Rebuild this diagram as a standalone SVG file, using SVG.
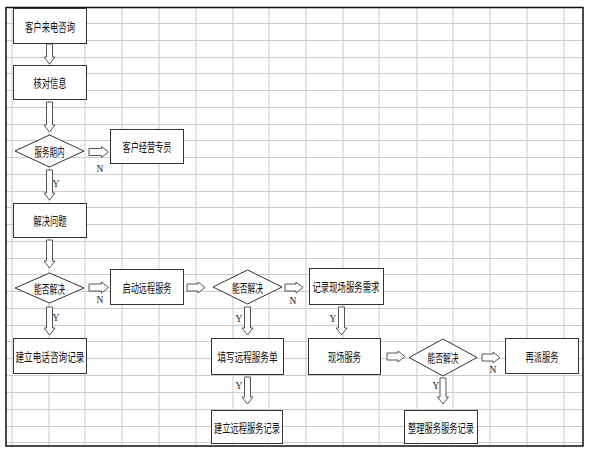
<svg xmlns="http://www.w3.org/2000/svg" width="590" height="452" viewBox="0 0 590 452">
<style>
.grid line{stroke:#cbcbcb;stroke-width:1}
.box{fill:#fff;stroke:#333;stroke-width:1}
.dia{fill:#fff;stroke:#333;stroke-width:1}
.arr{fill:#fff;stroke:#555;stroke-width:1}
.t{font-family:"Noto Sans CJK SC","Noto Sans CJK TC",sans-serif;font-size:12.5px;fill:#111;text-anchor:middle;dominant-baseline:central}
.yn{font-family:"Liberation Serif",serif;font-size:9.5px;fill:#222;text-anchor:middle}
</style>
<rect x="0" y="0" width="590" height="452" fill="#fff"/>
<g class="grid">
<line x1="12" y1="7" x2="12" y2="446"/><line x1="49" y1="7" x2="49" y2="446"/><line x1="85" y1="7" x2="85" y2="446"/><line x1="122" y1="7" x2="122" y2="446"/><line x1="159" y1="7" x2="159" y2="446"/><line x1="196" y1="7" x2="196" y2="446"/><line x1="233" y1="7" x2="233" y2="446"/><line x1="269" y1="7" x2="269" y2="446"/><line x1="306" y1="7" x2="306" y2="446"/><line x1="343" y1="7" x2="343" y2="446"/><line x1="379" y1="7" x2="379" y2="446"/><line x1="417" y1="7" x2="417" y2="446"/><line x1="453" y1="7" x2="453" y2="446"/><line x1="490" y1="7" x2="490" y2="446"/><line x1="527" y1="7" x2="527" y2="446"/><line x1="564" y1="7" x2="564" y2="446"/>
<line x1="6" y1="23.5" x2="583" y2="23.5"/><line x1="6" y1="40.5" x2="583" y2="40.5"/><line x1="6" y1="57.5" x2="583" y2="57.5"/><line x1="6" y1="73.5" x2="583" y2="73.5"/><line x1="6" y1="90.5" x2="583" y2="90.5"/><line x1="6" y1="107.5" x2="583" y2="107.5"/><line x1="6" y1="124.5" x2="583" y2="124.5"/><line x1="6" y1="140.5" x2="583" y2="140.5"/><line x1="6" y1="157.5" x2="583" y2="157.5"/><line x1="6" y1="174.5" x2="583" y2="174.5"/><line x1="6" y1="191.5" x2="583" y2="191.5"/><line x1="6" y1="207.5" x2="583" y2="207.5"/><line x1="6" y1="224.5" x2="583" y2="224.5"/><line x1="6" y1="241.5" x2="583" y2="241.5"/><line x1="6" y1="258.5" x2="583" y2="258.5"/><line x1="6" y1="274.5" x2="583" y2="274.5"/><line x1="6" y1="291.5" x2="583" y2="291.5"/><line x1="6" y1="308.5" x2="583" y2="308.5"/><line x1="6" y1="325.5" x2="583" y2="325.5"/><line x1="6" y1="341.5" x2="583" y2="341.5"/><line x1="6" y1="358.5" x2="583" y2="358.5"/><line x1="6" y1="375.5" x2="583" y2="375.5"/><line x1="6" y1="392.5" x2="583" y2="392.5"/><line x1="6" y1="409.5" x2="583" y2="409.5"/><line x1="6" y1="426.5" x2="583" y2="426.5"/><line x1="6" y1="442.5" x2="583" y2="442.5"/>
</g>
<rect x="6" y="7.5" width="577" height="438.5" fill="none" stroke="#111" stroke-width="1.5"/>
<g id="connectors">
<path class="arr" d="M46.5,44 H52.5 V57 H55 L49.5,64 L44,57 H46.5 Z"/>
<path class="arr" d="M46.5,102 H52.5 V125 H55 L49.5,132 L44,125 H46.5 Z"/>
<path class="arr" d="M89,148.5 H101.5 V146.5 L108.5,152 L101.5,157.5 V155.5 H89 Z"/>
<text class="yn" x="100" y="172">N</text>
<path class="arr" d="M46.5,170 H52.5 V193 H55 L49.5,200 L44,193 H46.5 Z"/>
<text class="yn" x="56" y="187">Y</text>
<path class="arr" d="M46.5,240 H52.5 V261 H55 L49.5,268 L44,261 H46.5 Z"/>
<path class="arr" d="M89,284 H101.5 V282 L108.5,287.5 L101.5,293 V291 H89 Z"/>
<text class="yn" x="100" y="303">N</text>
<path class="arr" d="M46.5,307 H52.5 V328 H55 L49.5,335 L44,328 H46.5 Z"/>
<text class="yn" x="56" y="321">Y</text>
<path class="arr" d="M187,284 H198 V282 L205,287.5 L198,293 V291 H187 Z"/>
<path class="arr" d="M285,284 H296 V282 L303,287.5 L296,293 V291 H285 Z"/>
<text class="yn" x="293" y="304">N</text>
<path class="arr" d="M244.5,307 H250.5 V328 H253 L247.5,335 L242,328 H244.5 Z"/>
<text class="yn" x="239" y="322">Y</text>
<path class="arr" d="M338.5,307 H344.5 V328 H347 L341.5,335 L336,328 H338.5 Z"/>
<text class="yn" x="333" y="322">Y</text>
<path class="arr" d="M387,353 H398 V351 L405,356.5 L398,362 V360 H387 Z"/>
<path class="arr" d="M482,354 H493 V352 L500,357.5 L493,363 V361 H482 Z"/>
<text class="yn" x="493" y="373">N</text>
<path class="arr" d="M244.5,377 H250.5 V397 H253 L247.5,404 L242,397 H244.5 Z"/>
<text class="yn" x="239" y="389">Y</text>
<path class="arr" d="M440,378 H446 V397 H448.5 L443,404 L437.5,397 H440 Z"/>
<text class="yn" x="436" y="389">Y</text>
</g>
<g id="n1"><rect class="box" x="13.5" y="8.5" width="73" height="35"/><text class="t" x="50" y="26" textLength="50" lengthAdjust="spacingAndGlyphs">客户来电咨询</text></g>
<g id="n2"><rect class="box" x="13.5" y="65.5" width="73" height="34"/><text class="t" x="50" y="82.5" textLength="33" lengthAdjust="spacingAndGlyphs">核对信息</text></g>
<g id="d1"><polygon class="dia" points="15,151 49.5,135 84,151 49.5,167"/><text class="t" x="49.5" y="151" textLength="30" lengthAdjust="spacingAndGlyphs">服务期内</text></g>
<g id="n3"><rect class="box" x="110.5" y="129.5" width="73" height="34"/><text class="t" x="147" y="146.5" textLength="49" lengthAdjust="spacingAndGlyphs">客户经营专员</text></g>
<g id="n4"><rect class="box" x="13.5" y="203.5" width="73" height="34"/><text class="t" x="50" y="220.5" textLength="33" lengthAdjust="spacingAndGlyphs">解决问题</text></g>
<g id="d2"><polygon class="dia" points="15,288 49.5,273 84,288 49.5,303"/><text class="t" x="49.5" y="288" textLength="31" lengthAdjust="spacingAndGlyphs">能否解决</text></g>
<g id="n5"><rect class="box" x="110.5" y="269.5" width="73" height="35"/><text class="t" x="147" y="287" textLength="49" lengthAdjust="spacingAndGlyphs">启动远程服务</text></g>
<g id="d3"><polygon class="dia" points="213,287 247.5,270 282,287 247.5,304"/><text class="t" x="247.5" y="287" textLength="31" lengthAdjust="spacingAndGlyphs">能否解决</text></g>
<g id="n6"><rect class="box" x="309.5" y="268.5" width="74" height="36"/><text class="t" x="346" y="286.5" textLength="67" lengthAdjust="spacingAndGlyphs">记录现场服务需求</text></g>
<g id="n7"><rect class="box" x="13.5" y="338.5" width="73" height="35"/><text class="t" x="50" y="356" textLength="69" lengthAdjust="spacingAndGlyphs">建立电话咨询记录</text></g>
<g id="n8"><rect class="box" x="211.5" y="338.5" width="72" height="36"/><text class="t" x="247.5" y="356.5" textLength="60" lengthAdjust="spacingAndGlyphs">填写远程服务单</text></g>
<g id="n9"><rect class="box" x="308.5" y="338.5" width="72" height="36"/><text class="t" x="344.5" y="356.5" textLength="33" lengthAdjust="spacingAndGlyphs">现场服务</text></g>
<g id="d4"><polygon class="dia" points="409,357.5 443,339 477,357.5 443,376"/><text class="t" x="443" y="357.5" textLength="31" lengthAdjust="spacingAndGlyphs">能否解决</text></g>
<g id="n10"><rect class="box" x="505.5" y="338.5" width="73" height="35"/><text class="t" x="542" y="356" textLength="33" lengthAdjust="spacingAndGlyphs">再派服务</text></g>
<g id="n11"><rect class="box" x="211.5" y="410.5" width="71" height="33"/><text class="t" x="247" y="427" textLength="66" lengthAdjust="spacingAndGlyphs">建立远程服务记录</text></g>
<g id="n12"><rect class="box" x="404.5" y="410.5" width="73" height="33"/><text class="t" x="441" y="427" textLength="66" lengthAdjust="spacingAndGlyphs">整理服务服务记录</text></g>
</svg>
